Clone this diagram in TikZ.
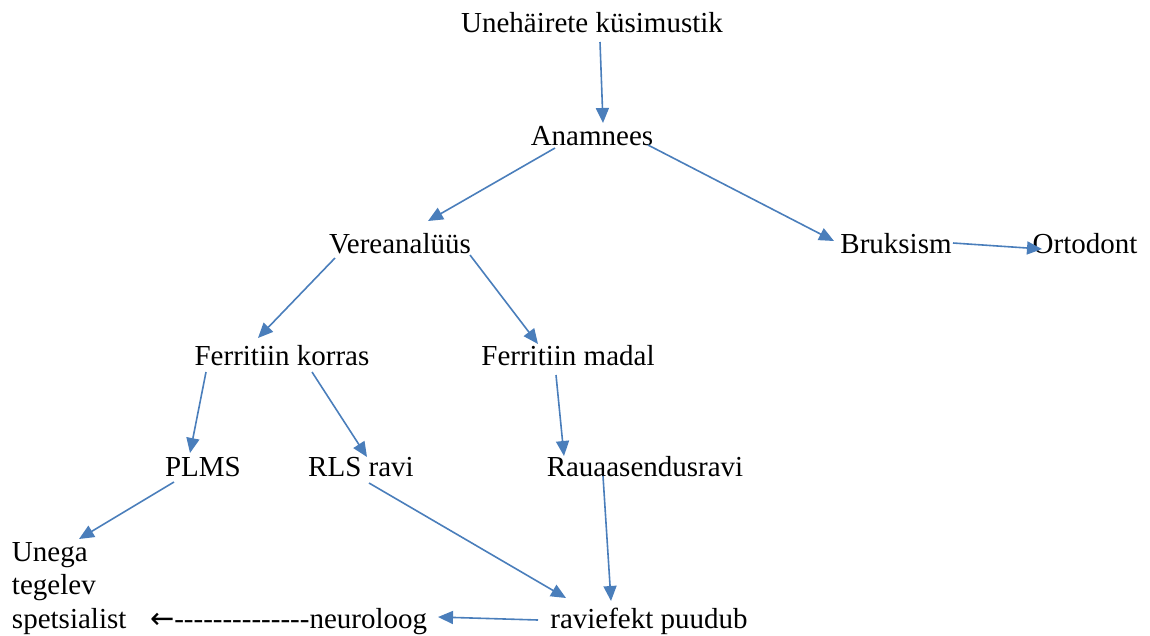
\documentclass[tikz,border=0pt]{standalone}
\usepackage{fontspec}
\setmainfont{Liberation Serif}
\newfontfamily\arrowfont{DejaVu Sans}
\usetikzlibrary{arrows.meta,calc}
\definecolor{wordblue}{HTML}{4A7EBB}
\newcommand{\hy}{\mbox{-}}
\begin{document}
\begin{tikzpicture}[x=1pt,y=-1pt,
  lbl/.style={inner sep=0pt,outer sep=0pt,anchor=base,font=\fontsize{29}{33.5}\selectfont},
  conn/.style={draw=wordblue,line width=1.6pt,-{Triangle[length=15pt,width=13pt]},fill=none}]
\useasboundingbox (0,0) rectangle (1150,635);
\node[lbl] (u) at (592,32) {Unehäirete küsimustik};
\node[lbl] (anam) at (592,145) {Anamnees};
\node[lbl] (vere) at (400,253) {Vereanalüüs};
\node[lbl] (bruk) at (896,253) {Bruksism};
\node[lbl] (orto) at (1085,253) {Ortodont};
\node[lbl] (fkor) at (282,365) {Ferritiin korras};
\node[lbl] (fmad) at (568,365) {Ferritiin madal};
\node[lbl] (plms) at (203,476) {PLMS};
\node[lbl] (rls) at (361,476) {RLS ravi};
\node[lbl] (raua) at (645,476) {Rauaasendusravi};
\node[lbl,anchor=base west,align=left] (spets) at (12,628) {Unega\\tegelev\\spetsialist};
\node[lbl,anchor=base west] (neuro) at (150,628) {{\arrowfont ←}\hy\hy\hy\hy\hy\hy\hy\hy\hy\hy\hy\hy\hy\hy neuroloog};
\node[lbl] (ravi) at (649,628) {raviefekt puudub};

\draw[conn] ($(u.base)+(8,10)$) -- ($(anam.base)+(11,-22)$);
\draw[conn] ($(anam.base)+(-37,3)$) -- ($(vere.base)+(28,-32)$);
\draw[conn] ($(anam.base)+(56,0)$) -- ($(bruk.base)+(-62,-12)$);
\draw[conn] ($(bruk.base)+(57,-10)$) -- ($(orto.base)+(-43,-4)$);
\draw[conn] ($(vere.base)+(-65,5)$) -- ($(fkor.base)+(-24,-27)$);
\draw[conn] ($(vere.base)+(70,2)$) -- ($(fmad.base)+(-30,-21)$);
\draw[conn] ($(fkor.base)+(-76,7)$) -- ($(plms.base)+(-13,-23)$);
\draw[conn] ($(fkor.base)+(30,7)$) -- ($(rls.base)+(6,-19)$);
\draw[conn] ($(fmad.base)+(-12,10)$) -- ($(raua.base)+(-81,-20)$);
\draw[conn] ($(plms.base)+(-29,6)$) -- ($(spets.base west)+(67,-89)$);
\draw[conn] ($(rls.base)+(8,7)$) -- ($(ravi.base)+(-83,-30)$);
\draw[conn] ($(raua.base)+(-42,0)$) -- ($(ravi.base)+(-38,-27)$);
\draw[conn] ($(ravi.base)+(-111,-8)$) -- ($(neuro.base west)+(288,-11)$);
\end{tikzpicture}
\end{document}
